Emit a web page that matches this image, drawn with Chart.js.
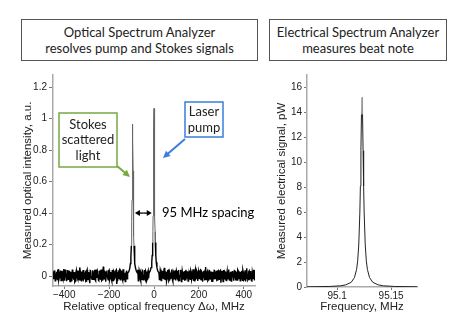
<!DOCTYPE html>
<html>
<head>
<meta charset="utf-8">
<script src="https://cdn.jsdelivr.net/npm/chart.js"></script>
<style>
  body { margin: 0; background: #fff; }
  #page { position: relative; width: 449px; height: 318px; overflow: hidden; }
  canvas { position: absolute; top: 0; }
  .titleBox {
    position: absolute; top: 19px; height: 42px; box-sizing: border-box;
    border: 1px solid #555; background: #fff;
    font: 13px Lato, "Open Sans", sans-serif; color: #222;
    line-height: 16px; text-align: center; padding-top: 4px;
  }
</style>
</head>
<body>
<div id="page">
  <canvas id="opticalChart" width="262" height="318" style="left:0"></canvas>
  <canvas id="electricalChart" width="187" height="318" style="left:262px"></canvas>
  <div class="titleBox" style="left:21px;width:237px">Optical Spectrum Analyzer<br>resolves pump and Stokes signals</div>
  <div class="titleBox" style="left:269px;width:178px">Electrical Spectrum Analyzer<br>measures beat note</div>
</div>
<script>
// optical spectrum: noise floor, two interleaved sample sets, every 4 MHz
const noiseStart = -450;
const noiseMidStart = -448;
const noiseStep = 4;
const noiseLevel = [
  0.03, -0.02, 0.035, -0.015, 0.028, -0.022, 0.04, -0.01, 0.025, -0.028, 0.033, -0.018, 0.045, -0.012, 0.02,
  -0.025, 0.038, -0.02, 0.03, -0.035, 0.027, -0.015, 0.042, -0.022, 0.018, -0.03, 0.036, -0.01, 0.031, -0.024,
  0.055, -0.018, 0.029, -0.027, 0.034, -0.014, 0.022, -0.032, 0.04, -0.02, 0.026, -0.045, 0.033, -0.016, 0.037,
  -0.021, 0.028, -0.026, 0.041, -0.012, 0.024, -0.029, 0.035, -0.019, 0.03, -0.023, 0.06, -0.017, 0.027, -0.031,
  0.036, -0.015, 0.032, -0.025, 0.023, -0.02, 0.039, -0.028, 0.029, -0.013, 0.034, -0.05, 0.026, -0.019, 0.038,
  -0.024, 0.031, -0.016, 0.043, -0.027, 0.021, -0.022, 0.035, -0.011, 0.028, -0.033, 0.04, -0.018, 0.025, -0.026,
  0.033, -0.021, 0.047, -0.014, 0.027, -0.03, 0.036, -0.017, 0.024, -0.025, 0.032, -0.012, 0.039, -0.029, 0.022,
  -0.019, 0.035, -0.023, 0.029, -0.04, 0.031, -0.016, 0.026, -0.027, 0.044, -0.013, 0.03, -0.024, 0.037, -0.02,
  0.028, -0.026, 0.033, -0.015, 0.052, -0.022, 0.025, -0.018, 0.034, -0.03, 0.027, -0.014, 0.041, -0.023, 0.03,
  -0.017, 0.036, -0.028, 0.024, -0.021, 0.038, -0.012, 0.029, -0.035, 0.032, -0.019, 0.026, -0.025, 0.04, -0.016,
  0.031, -0.029, 0.035, -0.02, 0.027, -0.014, 0.043, -0.026, 0.022, -0.018, 0.033, -0.031, 0.028, -0.015, 0.037,
  -0.023, 0.025, -0.019, 0.034, -0.027, 0.058, -0.013, 0.03, -0.024, 0.036, -0.017, 0.029, -0.032, 0.026, -0.021,
  0.039, -0.016, 0.028, -0.025, 0.035, -0.02, 0.031, -0.042, 0.027, -0.014, 0.038, -0.022, 0.024, -0.028, 0.033,
  -0.018, 0.042, -0.024, 0.027, -0.015, 0.032, -0.029, 0.036, -0.012, 0.025, -0.026, 0.04, -0.02, 0.029, -0.017,
  0.034, -0.027, 0.023, -0.021, 0.037, -0.014, 0.05, -0.025, 0.028, -0.019, 0.033, -0.03, 0.026, -0.016, 0.035, -0.022
];
const noiseLevelMid = [
  -0.005, 0.032, -0.03, 0.012, -0.018, 0.038, -0.024, 0.02, 0.036, -0.016, -0.008, 0.03, -0.026, 0.041, 0.004,
  -0.033, 0.015, 0.029, -0.021, 0.01, -0.028, 0.037, -0.006, 0.025, -0.038, 0.022, 0.002, -0.019, 0.034, -0.012,
  0.027, -0.03, 0.008, 0.039, -0.022, 0.016, -0.034, 0.031, -0.009, 0.024, -0.027, 0.035, 0.001, -0.02, 0.028,
  -0.014, 0.04, -0.031, 0.019, 0.033, -0.025, 0.006, -0.017, 0.042, -0.029, 0.013, -0.008, 0.03, -0.036, 0.021,
  0.003, -0.023, 0.037, -0.012, 0.026, -0.032, 0.018, 0.034, -0.02, -0.004, 0.039, -0.027, 0.011, 0.029, -0.015,
  0.035, -0.009, -0.026, 0.031, 0.007, -0.035, 0.024, -0.018, 0.038, -0.022, 0.014, 0.027, -0.03, 0.02, -0.011,
  -0.02, 0.033, 0.009, -0.028, 0.04, -0.016, 0.023, -0.033, 0.012, 0.036, -0.024, 0.005, -0.019, 0.032, -0.027,
  0.025, -0.013, 0.038, -0.031, 0.017, 0.002, -0.025, 0.034, -0.01, 0.029, -0.037, 0.021, 0.008, -0.022, 0.039,
  -0.028, 0.016, -0.007, 0.033, -0.019, 0.026, -0.032, 0.01, 0.037, -0.024, 0.019, -0.012, 0.031, -0.034, 0.023,
  0.006, -0.021, 0.035, -0.015, 0.028, -0.029, 0.004, 0.04, -0.026, 0.015, -0.01, 0.032, -0.023, 0.018, 0.027,
  -0.031, 0.012, -0.017, 0.036, -0.024, 0.021, 0.003, -0.03, 0.039, -0.013, 0.025, -0.028, 0.009, 0.033, -0.02,
  0.03, -0.036, 0.014, -0.006, 0.037, -0.022, 0.02, -0.029, 0.011, 0.034, -0.018, 0.026, -0.033, 0.007, 0.038,
  -0.015, 0.024, -0.027, 0.032, 0.001, -0.021, 0.036, -0.011, 0.028, -0.035, 0.017, 0.03, -0.024, 0.013, -0.009,
  0.04, -0.026, 0.019, -0.032, 0.027, 0.005, -0.018, 0.035, -0.028, 0.022, -0.014, 0.031, 0.008, -0.03, 0.025,
  -0.012, 0.037, -0.025, 0.016, -0.034, 0.029, 0.002, -0.02, 0.033, -0.016, 0.026, -0.031, 0.01, 0.035, -0.023
];

// Stokes line (around -95 MHz) and pump line (0 MHz)
const stokesFreq = [-117, -112, -108, -105, -103, -101, -100, -99, -98, -97, -96, -95, -94, -93, -92, -91, -90, -89, -87, -85, -82, -78, -73];
const stokesLevel = [0.018, 0.029, 0.049, 0.08, 0.119, 0.193, 0.255, 0.347, 0.483, 0.668, 0.869, 0.965, 0.869, 0.668, 0.483, 0.347, 0.255, 0.193, 0.119, 0.08, 0.049, 0.029, 0.018];
const pumpFreq = [-22, -17, -13, -10, -8, -6, -5, -4, -3, -2, -1, 0, 1, 2, 3, 4, 5, 6, 8, 10, 13, 17, 22];
const pumpLevel = [0.02, 0.032, 0.054, 0.088, 0.131, 0.213, 0.282, 0.383, 0.533, 0.737, 0.958, 1.065, 0.958, 0.737, 0.533, 0.383, 0.282, 0.213, 0.131, 0.088, 0.054, 0.032, 0.02];

const opticalTicksX = [-400, -200, 0, 200, 400];
const opticalTicksY = [0, 0.2, 0.4, 0.6, 0.8, 1, 1.2];

// electrical spectrum: beat note
const beatFreq = [95.072, 95.093, 95.103, 95.108, 95.113, 95.116, 95.118, 95.119, 95.12, 95.121, 95.1215, 95.122, 95.1225, 95.123, 95.1235, 95.124, 95.1245, 95.125, 95.126, 95.127, 95.128, 95.13, 95.133, 95.138, 95.143, 95.153, 95.174];
const beatPower = [0.015, 0.043, 0.095, 0.171, 0.379, 0.755, 1.41, 2.1, 3.37, 5.93, 8.09, 10.93, 13.85, 15.2, 13.85, 10.93, 8.09, 5.93, 3.37, 2.1, 1.41, 0.755, 0.379, 0.171, 0.095, 0.043, 0.015];

const electricalTicksX = [95.1, 95.15];
const electricalTicksY = [0, 2, 4, 6, 8, 10, 12, 14, 16];

Chart.defaults.font.family = '"Liberation Sans", Arial, sans-serif';
Chart.defaults.color = '#222';

function buildOpticalPoints() {
    const pts = [];
    const addNoise = (levels, start) => levels.forEach((v, i) => {
        const f = start + i * noiseStep;
        const nearStokes = f > -118 && f < -72;
        const nearPump = f > -23 && f < 23;
        if (!nearStokes && !nearPump) pts.push({x: f, y: v});
    });
    addNoise(noiseLevel, noiseStart);
    addNoise(noiseLevelMid, noiseMidStart);
    stokesFreq.forEach((f, i) => pts.push({x: f, y: stokesLevel[i]}));
    pumpFreq.forEach((f, i) => pts.push({x: f, y: pumpLevel[i]}));
    return pts.sort((a, b) => a.x - b.x);
}

function axis(opts) {
    return {
        type: 'linear',
        min: opts.min,
        max: opts.max,
        afterBuildTicks: s => { s.ticks = opts.ticks.map(v => ({value: v})); },
        afterFit: s => {
            if (opts.width) s.width = opts.width;
            if (opts.height) s.height = opts.height;
        },
        border: {color: '#aaa', width: 1.5},
        grid: {drawOnChartArea: false, drawTicks: true, tickLength: opts.tickLength, color: '#777'},
        ticks: {
            font: {size: 10},
            color: '#222',
            padding: opts.tickPadding,
            maxRotation: 0,
            autoSkip: false,
            callback: v => String(v).replace('-', '\u2212')
        },
        title: {
            display: true,
            text: opts.title,
            font: {size: 11.5},
            color: '#222',
            padding: opts.titlePadding
        }
    };
}

function arrow(ctx, x1, y1, x2, y2, headLen, headWidth) {
    const a = Math.atan2(y2 - y1, x2 - x1);
    ctx.beginPath();
    ctx.moveTo(x1, y1);
    ctx.lineTo(x2 - Math.cos(a) * headLen * 0.8, y2 - Math.sin(a) * headLen * 0.8);
    ctx.stroke();
    ctx.beginPath();
    ctx.moveTo(x2, y2);
    ctx.lineTo(x2 - headLen * Math.cos(a) + headWidth / 2 * Math.sin(a), y2 - headLen * Math.sin(a) - headWidth / 2 * Math.cos(a));
    ctx.lineTo(x2 - headLen * Math.cos(a) - headWidth / 2 * Math.sin(a), y2 - headLen * Math.sin(a) + headWidth / 2 * Math.cos(a));
    ctx.closePath();
    ctx.fill();
}

function labelBox(ctx, x, y, w, h, color, lines, lineGap) {
    ctx.fillStyle = '#fff';
    ctx.fillRect(x, y, w, h);
    ctx.strokeStyle = color;
    ctx.lineWidth = 1.5;
    ctx.strokeRect(x, y, w, h);
    ctx.fillStyle = '#222';
    ctx.font = '13px Lato, "Open Sans", sans-serif';
    ctx.textAlign = 'center';
    ctx.textBaseline = 'middle';
    const top = y + h / 2 - (lines.length - 1) * lineGap / 2;
    lines.forEach((t, i) => ctx.fillText(t, x + w / 2, top + i * lineGap));
}

const opticalNotes = {
    id: 'opticalNotes',
    afterDraw(chart) {
        const ctx = chart.ctx;
        const sx = chart.scales.x, sy = chart.scales.y;
        ctx.save();

        // Stokes label + green arrow
        const green = '#77a843';
        labelBox(ctx, 59, 113, 58, 54, green, ['Stokes', 'scattered', 'light'], 15.5);
        ctx.strokeStyle = green; ctx.fillStyle = green; ctx.lineWidth = 2;
        arrow(ctx, 117, 166, sx.getPixelForValue(-107), sy.getPixelForValue(0.63), 7, 7);

        // pump label + blue arrow
        const blue = '#3a7fdc';
        labelBox(ctx, 185, 102, 38, 35, blue, ['Laser', 'pump'], 16);
        ctx.strokeStyle = blue; ctx.fillStyle = blue; ctx.lineWidth = 2;
        arrow(ctx, 185, 139, sx.getPixelForValue(40), sy.getPixelForValue(0.75), 7, 7);

        // spacing marker between the two lines
        const yMid = sy.getPixelForValue(0.4);
        const xa = sx.getPixelForValue(-85), xb = sx.getPixelForValue(-10);
        ctx.strokeStyle = '#000'; ctx.fillStyle = '#000'; ctx.lineWidth = 1.3;
        arrow(ctx, (xa + xb) / 2, yMid, xa, yMid, 5, 6);
        arrow(ctx, (xa + xb) / 2, yMid, xb, yMid, 5, 6);
        ctx.font = '13px Lato, "Open Sans", sans-serif';
        ctx.textAlign = 'left';
        ctx.textBaseline = 'middle';
        ctx.fillText('95 MHz spacing', sx.getPixelForValue(36), yMid);
        ctx.restore();
    }
};

const isPeak = c => c.p0.parsed.y > 0.15 && c.p1.parsed.y > 0.15;

new Chart(document.getElementById('opticalChart'), {
    type: 'scatter',
    data: {
        datasets: [{
            data: buildOpticalPoints(),
            showLine: true,
            borderColor: '#000',
            borderWidth: 1,
            pointRadius: 0,
            segment: {
                borderColor: c => isPeak(c) ? '#666' : '#000',
                borderWidth: c => isPeak(c) ? 1 : 1.4
            }
        }]
    },
    options: {
        responsive: false,
        animation: false,
        devicePixelRatio: 1,
        layout: {padding: {top: 75, right: 7, left: 0, bottom: 0}},
        plugins: {legend: {display: false}, tooltip: {enabled: false}},
        scales: {
            x: axis({min: -450, max: 450, ticks: opticalTicksX, height: 32, tickLength: 3, tickPadding: 0,
                     title: 'Relative optical frequency \u0394\u03c9, MHz', titlePadding: {top: 0, bottom: 4}}),
            y: axis({min: -0.063, max: 1.277, ticks: opticalTicksY, width: 53, tickLength: 4, tickPadding: 2,
                     title: 'Measured optical intensity, a.u.', titlePadding: {top: 21, bottom: 0}})
        }
    },
    plugins: [opticalNotes]
});

new Chart(document.getElementById('electricalChart'), {
    type: 'scatter',
    data: {
        datasets: [{
            data: beatFreq.map((f, i) => ({x: f, y: beatPower[i]})),
            showLine: true,
            borderColor: '#222',
            borderWidth: 1,
            pointRadius: 0,
            segment: {
                borderColor: c => (c.p0.parsed.y > 11 && c.p1.parsed.y > 11) ? '#999' : '#222'
            }
        }]
    },
    options: {
        responsive: false,
        animation: false,
        devicePixelRatio: 1,
        layout: {padding: {top: 75, right: 32, left: 0, bottom: 0}},
        plugins: {legend: {display: false}, tooltip: {enabled: false}},
        scales: {
            x: axis({min: 95.072, max: 95.174, ticks: electricalTicksX, height: 31, tickLength: 3, tickPadding: 0,
                     title: 'Frequency, MHz', titlePadding: {top: 0, bottom: 4}}),
            y: axis({min: 0, max: 17, ticks: electricalTicksY, width: 45, tickLength: 3, tickPadding: 2,
                     title: 'Measured electrical signal, pW', titlePadding: {top: 13, bottom: 0}})
        }
    }
});
</script>
</body>
</html>
